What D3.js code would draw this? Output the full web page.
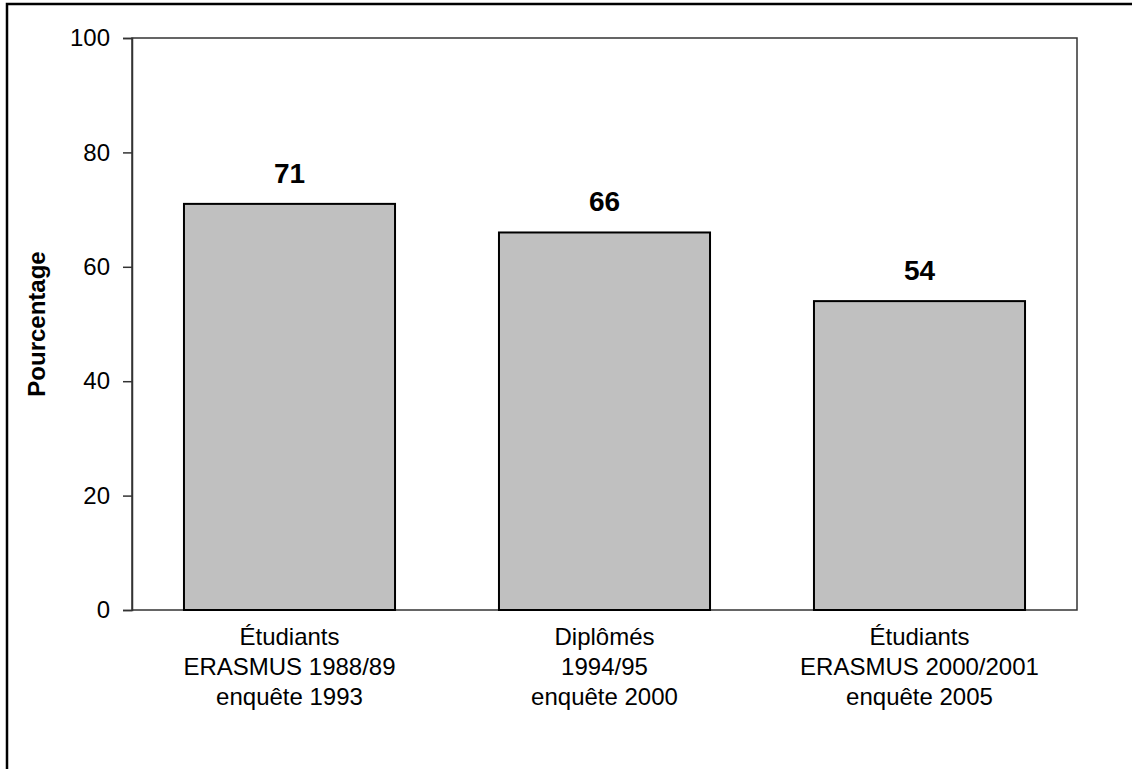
<!DOCTYPE html>
<html>
<head>
<meta charset="utf-8">
<script src="https://cdn.jsdelivr.net/npm/d3@7"></script>
<style>
  html, body { margin: 0; padding: 0; background: #fff; }
  svg { display: block; font-family: "Liberation Sans", Arial, sans-serif; }
</style>
</head>
<body>
<svg id="chart" width="1132" height="769"></svg>
<script>
const categories = [
  ["Étudiants", "ERASMUS 1988/89", "enquête 1993"],
  ["Diplômés", "1994/95", "enquête 2000"],
  ["Étudiants", "ERASMUS 2000/2001", "enquête 2005"]
];
const values = [71, 66, 54];
const yTicks = [0, 20, 40, 60, 80, 100];
const yTitle = "Pourcentage";

const svg = d3.select("#chart");
const plot = { left: 132, right: 1077, top: 38, bottom: 610 };

// outer frame, runs off the right and bottom edges like the original
svg.append("rect")
  .attr("x", 7).attr("y", 4)
  .attr("width", 1300).attr("height", 1000)
  .attr("fill", "none").attr("stroke", "#000").attr("stroke-width", 2.5);

const x = d3.scaleBand()
  .domain(d3.range(categories.length))
  .range([plot.left, plot.right])
  .paddingInner(0.33)
  .paddingOuter(0.165);

const y = d3.scaleLinear().domain([0, 100]).range([plot.bottom, plot.top]);

// plot frame
svg.append("rect")
  .attr("x", plot.left).attr("y", plot.top)
  .attr("width", plot.right - plot.left).attr("height", plot.bottom - plot.top)
  .attr("fill", "none").attr("stroke", "#333").attr("stroke-width", 1.5);

const yAxis = svg.append("g")
  .attr("transform", `translate(${plot.left},0)`)
  .call(d3.axisLeft(y).tickValues(yTicks).tickSize(9).tickPadding(13));
yAxis.select(".domain").attr("stroke", "#333").attr("stroke-width", 1.5);
yAxis.selectAll(".tick line").attr("stroke", "#333").attr("stroke-width", 1.5);
yAxis.selectAll(".tick text")
  .attr("font-size", 24).attr("font-family", "Liberation Sans, Arial, sans-serif")
  .attr("fill", "#000");

svg.append("text")
  .attr("transform", `translate(45,${(plot.top + plot.bottom) / 2}) rotate(-90)`)
  .attr("text-anchor", "middle")
  .attr("font-size", 24).attr("font-weight", "bold")
  .text(yTitle);

svg.append("g").selectAll("rect")
  .data(values)
  .join("rect")
  .attr("x", (d, i) => x(i))
  .attr("y", d => y(d))
  .attr("width", x.bandwidth())
  .attr("height", d => y(0) - y(d))
  .attr("fill", "#c0c0c0")
  .attr("stroke", "#000")
  .attr("stroke-width", 2);

svg.append("g").selectAll("text")
  .data(values)
  .join("text")
  .attr("x", (d, i) => x(i) + x.bandwidth() / 2)
  .attr("y", d => y(d) - 21)
  .attr("text-anchor", "middle")
  .attr("font-size", 28).attr("font-weight", "bold")
  .text(d => d);

const labels = svg.append("g").selectAll("text")
  .data(categories)
  .join("text")
  .attr("x", (d, i) => x(i) + x.bandwidth() / 2)
  .attr("y", plot.bottom + 35)
  .attr("text-anchor", "middle")
  .attr("font-size", 24);
labels.selectAll("tspan")
  .data(d => d)
  .join("tspan")
  .attr("x", function () { return d3.select(this.parentNode).attr("x"); })
  .attr("dy", (d, i) => i === 0 ? 0 : 30)
  .text(d => d);
</script>
</body>
</html>
